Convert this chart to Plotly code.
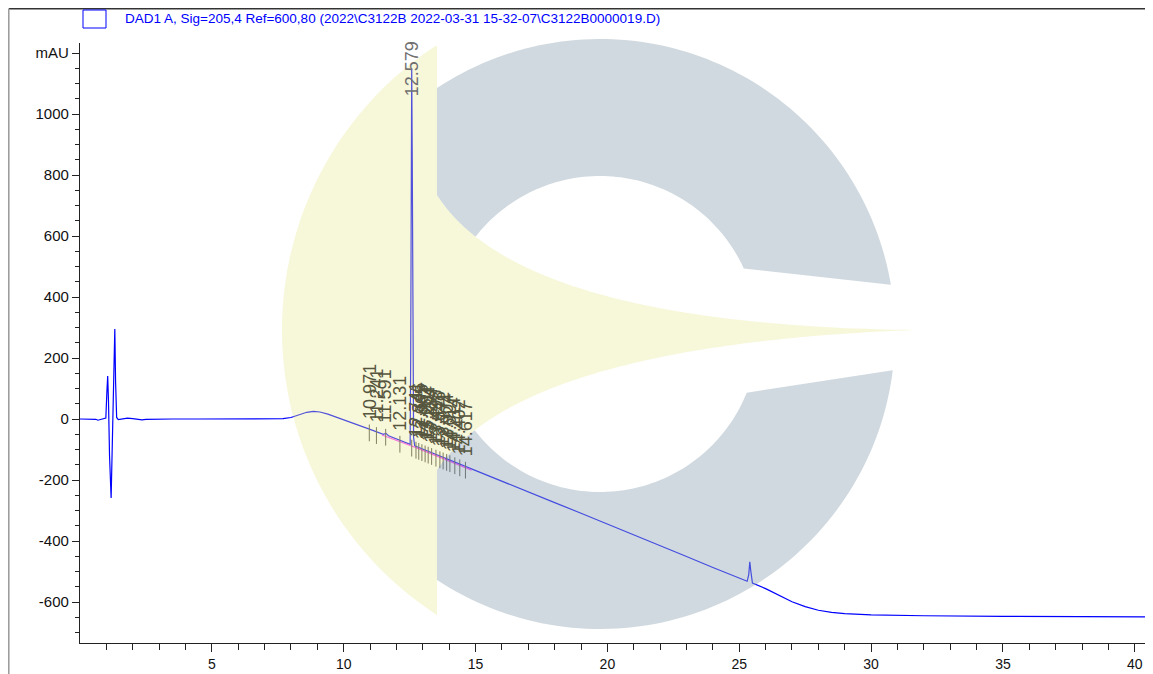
import numpy as np
import plotly.graph_objects as go

# ---------------- data ----------------
time_min = [0.0, 0.3, 0.6, 0.68, 0.75, 0.85, 0.98, 1.02, 1.05, 1.08, 1.12, 1.18, 1.22, 1.27,
            1.32, 1.35, 1.39, 1.45, 1.6, 1.8, 2.0, 2.2, 2.35, 2.5, 2.8, 3.5, 4.5, 5.5, 6.5,
            7.3, 7.7, 8.0, 8.3, 8.6, 8.85, 9.1, 9.4, 9.7, 10.0, 10.5, 11.0, 11.5, 11.6, 11.7,
            12.0, 12.52, 12.54, 12.56, 12.579, 12.60, 12.62, 12.65, 12.69,
            13.0, 13.5, 14.0, 14.5, 15.0, 16.0, 17.0, 18.0, 19.0, 20.0, 21.0, 22.0, 23.0,
            24.0, 25.0, 25.3, 25.36, 25.4, 25.44, 25.5, 26.0, 26.5, 27.0, 27.5, 28.0, 28.5,
            29.0, 30.0, 32.0, 35.0, 38.0, 40.69]
signal_mau = [0, 0, -1, -4, -2, 0, 3, 90, 141, 60, -120, -259, -100, 150,
              295, 120, 5, -2, 0, 3, 1, -2, -3, -1, 0, 0, 0, 0, 0,
              0, 1, 5, 14, 22, 25, 23, 16, 7, -3, -18, -34, -50, -47, -55,
              -66, -83, 200, 850, 1148, 850, 250, -60, -88,
              -99, -116, -133, -151, -169, -204, -239, -274, -309, -344, -379, -415, -451,
              -487, -521, -532, -510, -468, -500, -538, -556, -578, -599, -615, -627, -634,
              -638, -642, -645, -647, -648, -649]

peak_times = [10.971, 11.241, 11.591, 12.131, 12.579, 12.741, 12.846, 12.965, 13.087,
              13.204, 13.334, 13.498, 13.648, 13.771, 13.904, 14.027, 14.214, 14.402, 14.617]
main_peak = 12.579
baseline_segments = [(11.45, 12.52), (12.52, 12.69), (12.69, 14.85)]

x_tick_vals = [5, 10, 15, 20, 25, 30, 35, 40]
y_tick_vals = [-600, -400, -200, 0, 200, 400, 600, 800, 1000, 1200]
y_tick_text = ["-600", "-400", "-200", "0", "200", "400", "600", "800", "1000", "mAU"]

title_text = "DAD1 A, Sig=205,4 Ref=600,80 (2022\\C3122B 2022-03-31 15-32-07\\C3122B0000019.D)"

# ---------------- layout geometry (page pixels; page has an 8px body margin) ----------------
OFF = 8
W, H = 1153 - OFF, 674 - OFF
L, R, T, B = 80 - OFF, 0, 43 - OFF, 31
PW, PH = W - L - R, H - T - B
FONT = "Liberation Sans, Arial, sans-serif"


def P(xp, yp):
    return ((xp - OFF - L) / PW, (H - B - (yp - OFF)) / PH)


def path_from(points):
    pts = [P(x, y) for x, y in points]
    s = "M {:.5f},{:.5f} ".format(*pts[0])
    s += " ".join("L {:.5f},{:.5f}".format(x, y) for x, y in pts[1:])
    return s + " Z"


def arc(cx, cy, r, a0, a1, n=80):
    a = np.radians(np.linspace(a0, a1, n))
    return list(zip(cx + r * np.cos(a), cy + r * np.sin(a)))


def bez(p0, c, p2, n=80, s0=0.0, s1=1.0):
    s = np.linspace(s0, s1, n)
    x = (1 - s) ** 2 * p0[0] + 2 * s * (1 - s) * c[0] + s ** 2 * p2[0]
    y = (1 - s) ** 2 * p0[1] + 2 * s * (1 - s) * c[1] + s ** 2 * p2[1]
    return list(zip(x, y))


# watermark logo (decorative)
O = (600.0, 334.0)
r_out, r_in = 295.0, 158.0
cutx = 437.0
A = (cutx, 195.0)
Bp = (cutx, 470.0)
TIP = (915.0, 330.0)
CU = (520.0, 325.0)
CL = (520.0, 345.0)


def entry(p0, c, p2):
    s = np.linspace(0, 1, 2000)
    x = (1 - s) ** 2 * p0[0] + 2 * s * (1 - s) * c[0] + s ** 2 * p2[0]
    y = (1 - s) ** 2 * p0[1] + 2 * s * (1 - s) * c[1] + s ** 2 * p2[1]
    d = np.hypot(x - O[0], y - O[1])
    i = int(np.argmax(d <= r_in))
    return s[i], (x[i], y[i])


su, PU = entry(A, CU, TIP)
sl, PL = entry(Bp, CL, TIP)
dy_cut = np.sqrt(r_out ** 2 - (cutx - O[0]) ** 2)
ang = lambda p: np.degrees(np.arctan2(p[1] - O[1], p[0] - O[0]))
a_top0 = ang((cutx, O[1] - dy_cut))
a_bot0 = ang((cutx, O[1] + dy_cut))
up_out_end, up_in_end = (890.0, 285.0), (745.0, 268.0)
lo_out_end, lo_in_end = (890.0, 370.0), (745.0, 392.0)

a_pu = ang(PU)
if a_pu > ang(up_in_end):
    a_pu -= 360
upper_arm = [A] + arc(*O, r_out, a_top0, ang(up_out_end)) + \
    arc(*O, r_in, ang(up_in_end), a_pu) + bez(A, CU, TIP, 60, su, 0.0)
lower_arm = [Bp] + arc(*O, r_out, a_bot0, ang(lo_out_end)) + \
    arc(*O, r_in, ang(lo_in_end), ang(PL)) + bez(Bp, CL, TIP, 60, sl, 0.0)

YC = (621.5, 330.0)
yr = YC[0] - 282.0
ya = np.degrees(np.arctan2(45 - YC[1], cutx - YC[0]))
yellow = arc(*YC, yr, ya, -360 - ya) + [Bp] + bez(Bp, CL, TIP, 80) + bez(A, CU, TIP, 80)[::-1] + [(cutx, 45.0)]

# ---------------- figure ----------------
fig = go.Figure()

seg_x, seg_y = [], []
for a, b in baseline_segments:
    seg_x += [a, b, None]
    seg_y += [float(np.interp(a, time_min, signal_mau)) - 4, float(np.interp(b, time_min, signal_mau)) - 4, None]

fig.add_trace(go.Scatter(x=time_min, y=signal_mau, mode="lines",
                         line=dict(color="#0000ff", width=1.2), showlegend=False, hoverinfo="skip"))
fig.add_trace(go.Scatter(x=seg_x, y=seg_y, mode="lines",
                         line=dict(color="#ff33ff", width=1.2), showlegend=False, hoverinfo="skip"))

shapes = []
annotations = []
for tp in peak_times:
    v = float(np.interp(tp, time_min, signal_mau)) if tp != main_peak else float(np.interp(12.52, time_min, signal_mau))
    shapes.append(dict(type="line", xref="x", yref="y", x0=tp, x1=tp, y0=v + 15, y1=v - 40,
                       line=dict(color="#4a4a40", width=1), layer="above"))
    if tp == main_peak:
        annotations.append(dict(x=tp, y=1, xref="x", yref="paper", text=f"{tp:.3f}", textangle=-90,
                                showarrow=False, xanchor="center", yanchor="top", yshift=4,
                                font=dict(family=FONT, size=18, color="#707070")))
    else:
        annotations.append(dict(x=tp, y=v, xref="x", yref="y", text=f"{tp:.3f}", textangle=-90,
                                showarrow=False, xanchor="center", yanchor="bottom", yshift=8,
                                font=dict(family=FONT, size=18, color="#56563e")))

# watermark overlay
shapes.append(dict(type="path", xref="paper", yref="paper", path=path_from(yellow),
                   fillcolor="rgb(232,232,150)", opacity=0.35, line=dict(width=0), layer="above"))
shapes.append(dict(type="path", xref="paper", yref="paper", path=path_from(upper_arm),
                   fillcolor="rgb(150,170,185)", opacity=0.45, line=dict(width=0), layer="above"))
shapes.append(dict(type="path", xref="paper", yref="paper", path=path_from(lower_arm),
                   fillcolor="rgb(150,170,185)", opacity=0.45, line=dict(width=0), layer="above"))

# frame lines (as close to the page edge as the figure allows)
fx, _ = P(OFF + 0.8, 0)
_, fy = P(0, OFF + 0.8)
shapes.append(dict(type="line", xref="paper", yref="paper", x0=fx, x1=P(1153, 0)[0], y0=fy, y1=fy,
                   line=dict(color="#333333", width=1.6)))
shapes.append(dict(type="line", xref="paper", yref="paper", x0=fx, x1=fx, y0=fy, y1=P(0, 674)[1],
                   line=dict(color="#999999", width=1.5)))
# legend box
bx0, by0 = P(83, 28)
bx1, by1 = P(106, 10)
shapes.append(dict(type="rect", xref="paper", yref="paper", x0=bx0, x1=bx1, y0=by0, y1=by1,
                   line=dict(color="#0000ff", width=1), fillcolor="rgba(0,0,0,0)"))
tx, ty = P(123, 19)
annotations.append(dict(x=tx, y=ty, xref="paper", yref="paper", text=title_text, showarrow=False,
                        xanchor="left", yanchor="middle", font=dict(family=FONT, size=13.5, color="#0000ff")))
mx, my = P(1144, 662)
annotations.append(dict(x=mx, y=my, xref="paper", yref="paper", text="min", showarrow=False,
                        xanchor="left", yanchor="middle", font=dict(family=FONT, size=14, color="#111111")))

fig.update_layout(
    width=W, height=H, margin=dict(l=L, r=R, t=T, b=B, autoexpand=False),
    paper_bgcolor="white", plot_bgcolor="white",
    shapes=shapes, annotations=annotations, showlegend=False,
    font=dict(family=FONT, size=15, color="#111111"),
)
fig.update_xaxes(range=[0, 40.69], tickvals=x_tick_vals, ticktext=[str(v) for v in x_tick_vals],
                 ticks="outside", ticklen=8, tickcolor="#222222", tickwidth=1,
                 minor=dict(tickvals=list(range(1, 41)), ticks="outside", ticklen=6, tickcolor="#222222"),
                 showline=True, linecolor="#222222", linewidth=1.3, showgrid=False, zeroline=False,
                 tickfont=dict(family=FONT, size=14, color="#111111"), automargin=False)
fig.update_yaxes(range=[-734.4, 1232.8], tickvals=y_tick_vals, ticktext=y_tick_text,
                 ticks="outside", ticklen=7, tickcolor="#222222", tickwidth=1,
                 minor=dict(tickvals=list(range(-700, 1201, 50)), ticks="outside", ticklen=4, tickcolor="#222222"),
                 showline=True, linecolor="#222222", linewidth=1.3, showgrid=False, zeroline=False,
                 tickfont=dict(family=FONT, size=15, color="#111111"), automargin=False)

fig.write_html("out.html")
